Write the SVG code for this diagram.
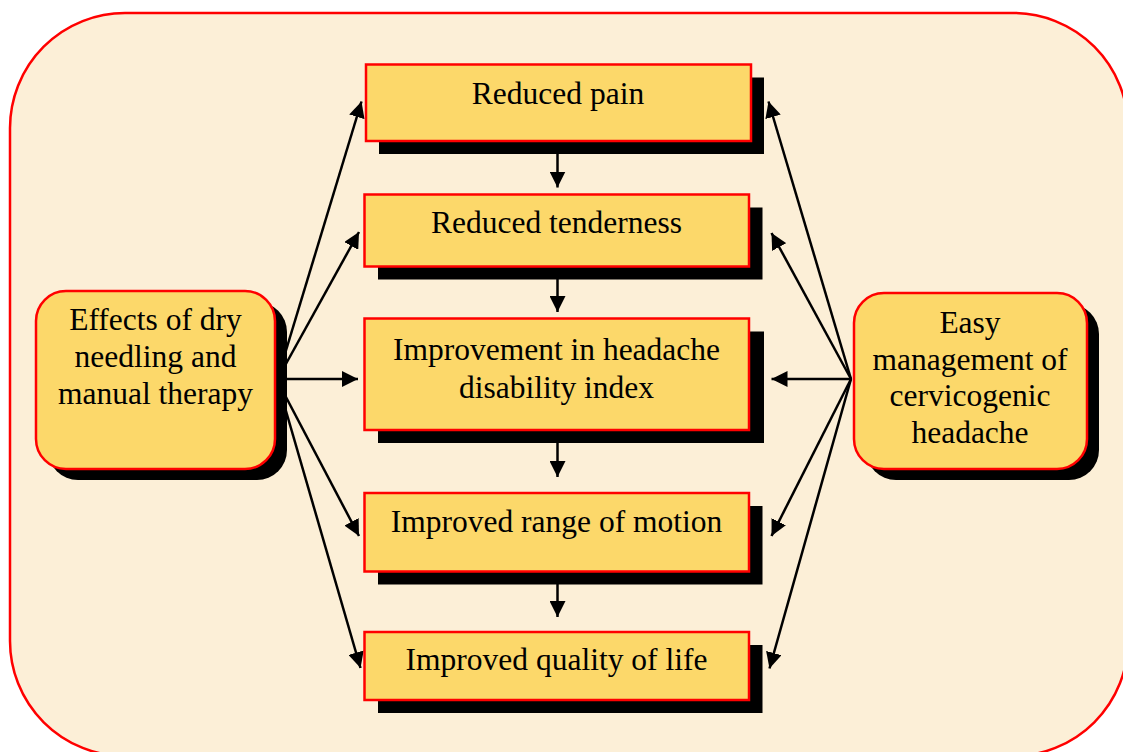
<svg xmlns="http://www.w3.org/2000/svg" width="1123" height="752" viewBox="0 0 1123 752">
  <defs>
    <marker id="arrow" viewBox="0 0 10 10" refX="10" refY="5" markerWidth="6.4" markerHeight="6.4" orient="auto" markerUnits="strokeWidth">
      <path d="M0,0 L10,5 L0,10 z" fill="#000"/>
    </marker>
  </defs>
  <style>
    .panel { fill: #FCEFD7; stroke: #FF0000; stroke-width: 2.5; }
    .shadow { fill: #000; }
    .box { fill: #FCD86A; stroke: #FF0000; stroke-width: 2.5; }
    .label { font-family: "Liberation Serif", "Times New Roman", serif; font-size: 31.5px; fill: #000; text-anchor: middle; }
    .link { stroke: #000; stroke-width: 2.5; fill: none; marker-end: url(#arrow); }
  </style>

  <!-- background panel -->
  <rect class="panel" x="10" y="13" width="1118" height="743" rx="115" ry="115"/>

  <!-- connectors -->
  <g id="connectors">
    <!-- from the left node -->
    <line class="link" x1="277" y1="380" x2="361.5" y2="101.5"/>
    <line class="link" x1="277" y1="380" x2="359" y2="232"/>
    <line class="link" x1="277" y1="379" x2="358" y2="379"/>
    <line class="link" x1="277" y1="380" x2="359" y2="536"/>
    <line class="link" x1="277" y1="380" x2="360.5" y2="668"/>
    <!-- from the right node -->
    <line class="link" x1="851" y1="379" x2="768.5" y2="101.5"/>
    <line class="link" x1="851" y1="379" x2="771.5" y2="233"/>
    <line class="link" x1="851" y1="379" x2="771.5" y2="379"/>
    <line class="link" x1="851" y1="379" x2="771.5" y2="536"/>
    <line class="link" x1="851" y1="379" x2="769.5" y2="668.5"/>
    <!-- chain down the middle -->
    <line class="link" x1="557.5" y1="141" x2="557.5" y2="187.5"/>
    <line class="link" x1="557.5" y1="267" x2="557.5" y2="312"/>
    <line class="link" x1="557.5" y1="430" x2="557.5" y2="477"/>
    <line class="link" x1="557.5" y1="572" x2="557.5" y2="617"/>
  </g>

  <g id="source">
    <rect class="shadow" x="48" y="302" width="239" height="178" rx="30" ry="30"/>
    <rect class="box" x="36" y="291" width="239" height="178" rx="30" ry="30"/>
    <text class="label" x="155.5" y="330">Effects of dry</text>
    <text class="label" x="155.5" y="367">needling and</text>
    <text class="label" x="155.5" y="404">manual therapy</text>
  </g>

  <g id="outcome">
    <rect class="shadow" x="866" y="304" width="233" height="176" rx="30" ry="30"/>
    <rect class="box" x="854" y="293" width="233" height="176" rx="30" ry="30"/>
    <text class="label" x="970" y="333">Easy</text>
    <text class="label" x="970" y="369.5">management of</text>
    <text class="label" x="970" y="406">cervicogenic</text>
    <text class="label" x="970" y="443">headache</text>
  </g>

  <g id="reduced-pain">
    <rect class="shadow" x="379" y="77.5" width="385" height="76.5"/>
    <rect class="box" x="366" y="64.5" width="385" height="76.5"/>
    <text class="label" x="558" y="104">Reduced pain</text>
  </g>

  <g id="reduced-tenderness">
    <rect class="shadow" x="378" y="207.5" width="384.5" height="72"/>
    <rect class="box" x="364.5" y="194.5" width="384.5" height="72"/>
    <text class="label" x="556.5" y="233">Reduced tenderness</text>
  </g>

  <g id="headache-disability">
    <rect class="shadow" x="378" y="331.5" width="386" height="111.5"/>
    <rect class="box" x="364.5" y="318.5" width="384.5" height="111.5"/>
    <text class="label" x="556.5" y="359.5">Improvement in headache</text>
    <text class="label" x="556.5" y="397.5">disability index</text>
  </g>

  <g id="range-of-motion">
    <rect class="shadow" x="378" y="506" width="384.5" height="78.5"/>
    <rect class="box" x="364.5" y="493" width="384.5" height="78.5"/>
    <text class="label" x="556.5" y="532">Improved range of motion</text>
  </g>

  <g id="quality-of-life">
    <rect class="shadow" x="378" y="645" width="384.5" height="68"/>
    <rect class="box" x="364.5" y="632" width="384.5" height="68"/>
    <text class="label" x="556.5" y="670">Improved quality of life</text>
  </g>
</svg>
